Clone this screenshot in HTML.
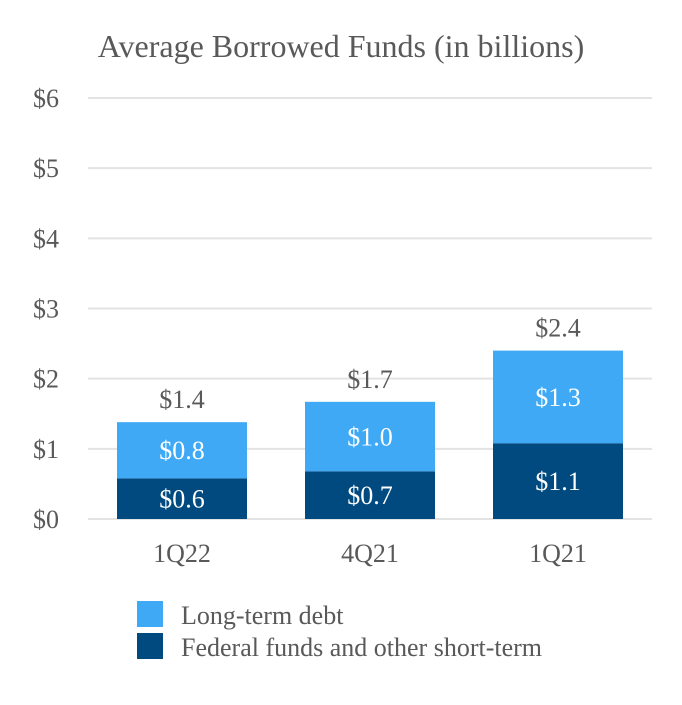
<!DOCTYPE html>
<html><head><meta charset="utf-8"><style>
body{margin:0;background:#fff;}
svg text{font-family:"Liberation Serif",serif;}
</style></head><body>
<svg width="682" height="700" id="c">
<text x="341" y="57" text-anchor="middle" font-size="32" fill="#595959">Average Borrowed Funds (in billions)</text>
<g id="grid"></g><g id="bars"></g><g id="labels"></g>
<rect x="137" y="601" width="26" height="26" fill="#3FA9F5"/>
<text x="181" y="624" font-size="26" fill="#595959">Long-term debt</text>
<rect x="137" y="633" width="26" height="26" fill="#004A80"/>
<text x="181" y="656" font-size="26" fill="#595959">Federal funds and other short-term</text>
</svg>
<script>
const categories=["1Q22","4Q21","1Q21"];
const shortTerm=[0.58,0.68,1.08];
const longTerm=[0.8,0.99,1.32];
const shortLabels=["$0.6","$0.7","$1.1"];
const longLabels=["$0.8","$1.0","$1.3"];
const totalLabels=["$1.4","$1.7","$2.4"];
const ticks=[0,1,2,3,4,5,6];
const NS="http://www.w3.org/2000/svg";
const y0=519,yTop=98,yMax=6,x0=88,x1=652,bw=130;
const y=v=>y0-(y0-yTop)*v/yMax;
const band=(x1-x0)/categories.length;
const xc=i=>x0+band*(i+0.5);
function mk(t,a,p){const e=document.createElementNS(NS,t);for(const k in a)e.setAttribute(k,a[k]);p.appendChild(e);return e;}
const g=document.getElementById('grid');
ticks.forEach(t=>{
 const l=mk('line',{x1:x0,x2:x1,y1:y(t),y2:y(t),stroke:'#e3e3e3','stroke-width':2},g);
 
 
 const tx=mk('text',{x:59,y:y(t)+9,'text-anchor':'end','font-size':26,fill:'#595959'},g);
 tx.textContent='$'+t;
 
 
});
const b=document.getElementById('bars'),lb=document.getElementById('labels');
categories.forEach((c,i)=>{
 const s=shortTerm[i],L=longTerm[i],cx=xc(i);
 const r1=mk('rect',{x:cx-bw/2,y:y(s),width:bw,height:y(0)-y(s),fill:'#004A80'},b);
 
 
 const r2=mk('rect',{x:cx-bw/2,y:y(s+L),width:bw,height:y(s)-y(s+L),fill:'#3FA9F5'},b);
 
 
 const t1=mk('text',{x:cx,y:(y(0)+y(s))/2+9,'text-anchor':'middle','font-size':26,fill:'#fff'},lb);
 t1.textContent=shortLabels[i];
 
 
 const t2=mk('text',{x:cx,y:(y(s)+y(s+L))/2+9,'text-anchor':'middle','font-size':26,fill:'#fff'},lb);
 t2.textContent=longLabels[i];
 
 
 const t3=mk('text',{x:cx,y:y(s+L)-14,'text-anchor':'middle','font-size':26,fill:'#595959'},lb);
 t3.textContent=totalLabels[i];
 
 
 const t4=mk('text',{x:cx,y:562,'text-anchor':'middle','font-size':26,fill:'#595959'},lb);
 t4.textContent=c;
 
 
});
</script>
</body></html>
